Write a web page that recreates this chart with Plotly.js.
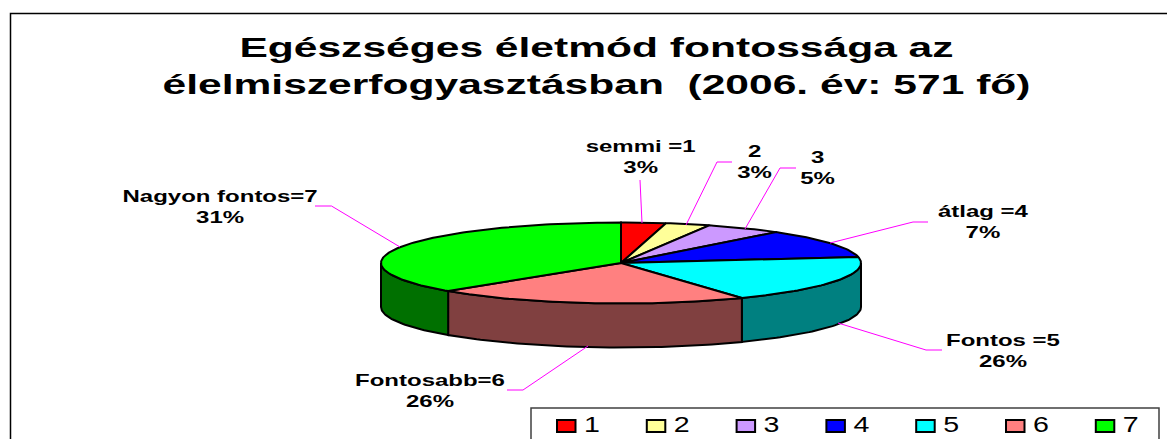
<!DOCTYPE html>
<html>
<head>
<meta charset="utf-8">
<script src="https://cdn.plot.ly/plotly-3.0.0.min.js"></script>
<style>
html,body{margin:0;padding:0;background:#fff;overflow:hidden}
#chart{width:1167px;height:439px}
#chart .gtitle{transform-box:fill-box;transform-origin:center;transform:scaleX(1.52)}
#chart .annotation-text{transform-box:fill-box;transform-origin:center;transform:scaleX(1.5)}
#chart .textpoint text{transform-box:fill-box;transform-origin:left center;transform:scaleX(1.3)}
</style>
</head>
<body>
<div id="chart"></div>
<script>
var categories = ['1','2','3','4','5','6','7'];
var labelNames = ['semmi =1','2','3','átlag =4','Fontos =5','Fontosabb=6','Nagyon fontos=7'];
var labelPercents = [3,3,5,7,26,26,31];
// Slice shares as actually drawn in the picture (the printed labels differ from the drawn angles)
var sliceShares = [3,3,5.2,11.4,19,21.2,37.2];
var topColors = ['#FF0000','#FFFF99','#CC99FF','#0000FF','#00FFFF','#FF8080','#00FF00'];
var wallColors = ['#800000','#808040','#604080','#000080','#008080','#804040','#007000'];

var pie = {cx:621, cy:263, rx:240, ry:40.5, depth:44};
var labelPos = [[640,157],[754,161.5],[817,168],[983,222],[1003,350.5],[430,391],[220,206.5]];
var leaders = [
  [[640,180],[642,223]],
  [[732,162],[717,162],[686,225]],
  [[796,168],[780,168],[745,229]],
  [[928,222],[913,222],[830,243]],
  [[942,350],[926,350],[838,323]],
  [[507,390],[523,390],[588,346]],
  [[315,206],[331.5,206],[400,247]]
];
var legendStart = 557, legendPitch = 89.8;

function px(t){return pie.cx + pie.rx*Math.sin(t);}
function py(t){return pie.cy - pie.ry*Math.cos(t);}
var total = sliceShares.reduce(function(a,b){return a+b;},0);
var bounds=[0]; sliceShares.forEach(function(v,i){bounds.push(bounds[i]+v/total*2*Math.PI);});

function arc(a,b){var n=Math.max(2,Math.ceil((b-a)/0.02)),r=[];for(var i=0;i<=n;i++){var t=a+(b-a)*i/n;r.push(t);}return r;}

var traces=[];
// side walls (front half only)
var HALF=Math.PI/2, END=3*Math.PI/2;
sliceShares.forEach(function(v,i){
  var a=Math.max(bounds[i],HALF), b=Math.min(bounds[i+1],END);
  if(b<=a) return;
  var ts=arc(a,b), xs=[], ys=[];
  ts.forEach(function(t){xs.push(px(t));ys.push(py(t));});
  ts.slice().reverse().forEach(function(t){xs.push(px(t));ys.push(py(t)+pie.depth);});
  xs.push(xs[0]);ys.push(ys[0]);
  traces.push({type:'scatter',mode:'lines',x:xs,y:ys,fill:'toself',fillcolor:wallColors[i],
    line:{color:'#000',width:2},showlegend:false,hoverinfo:'skip'});
});
// top slices
sliceShares.forEach(function(v,i){
  var ts=arc(bounds[i],bounds[i+1]), xs=[pie.cx], ys=[pie.cy];
  ts.forEach(function(t){xs.push(px(t));ys.push(py(t));});
  xs.push(pie.cx);ys.push(pie.cy);
  traces.push({type:'scatter',mode:'lines',x:xs,y:ys,fill:'toself',fillcolor:topColors[i],
    line:{color:'#000',width:2},name:categories[i],showlegend:false,hoverinfo:'name'});
});
// leader lines
leaders.forEach(function(l){
  traces.push({type:'scatter',mode:'lines',x:l.map(function(p){return p[0];}),y:l.map(function(p){return p[1];}),
    line:{color:'#FF00FF',width:1},showlegend:false,hoverinfo:'skip'});
});

var shapes=[
  {type:'rect',xref:'paper',yref:'paper',x0:10.5/1167,y0:1-13.5/439,x1:1.02,y1:-0.1,line:{color:'#000',width:1.5},fillcolor:'rgba(0,0,0,0)',layer:'below'},
  {type:'rect',xref:'paper',yref:'paper',x0:531/1167,y0:1-408/439,x1:1159/1167,y1:-0.1,line:{color:'#404040',width:1.5},fillcolor:'#fff',layer:'below'}
];
var annotations=[];
labelNames.forEach(function(n,i){
  annotations.push({xref:'x',yref:'y',x:labelPos[i][0],y:labelPos[i][1],text:'<b>'+n+'<br>'+labelPercents[i]+'%</b>',
    showarrow:false,xanchor:'center',yanchor:'middle',align:'center',
    font:{family:'Liberation Sans',size:16,color:'#000'}});
});
categories.forEach(function(c,i){
  var x0=legendStart+legendPitch*i;
  shapes.push({type:'rect',xref:'x',yref:'y',x0:x0,x1:x0+18.5,y0:420,y1:432,fillcolor:topColors[i],line:{color:'#000',width:2}});
  traces.push({type:'scatter',mode:'text',x:[x0+27],y:[426.5],text:[c],textposition:'middle right',
    textfont:{family:'Liberation Sans',size:22,color:'#000'},showlegend:false,hoverinfo:'skip',cliponaxis:false});
});

var layout={
  width:1167,height:439,margin:{l:0,r:0,t:0,b:0},paper_bgcolor:'#fff',plot_bgcolor:'#fff',
  title:{text:'<b>Egészséges életmód fontossága az<br>élelmiszerfogyasztásban  (2006. év: 571 fő)</b>',
    font:{family:'Liberation Sans',size:28,color:'#000'},x:596.5/1167,xanchor:'center',y:1-57.5/439,yanchor:'middle'},
  xaxis:{range:[0,1167],visible:false,fixedrange:true},
  yaxis:{range:[439,0],visible:false,fixedrange:true},
  shapes:shapes,annotations:annotations,showlegend:false
};
Plotly.newPlot('chart',traces,layout,{displayModeBar:false,staticPlot:true});
</script>
</body>
</html>
